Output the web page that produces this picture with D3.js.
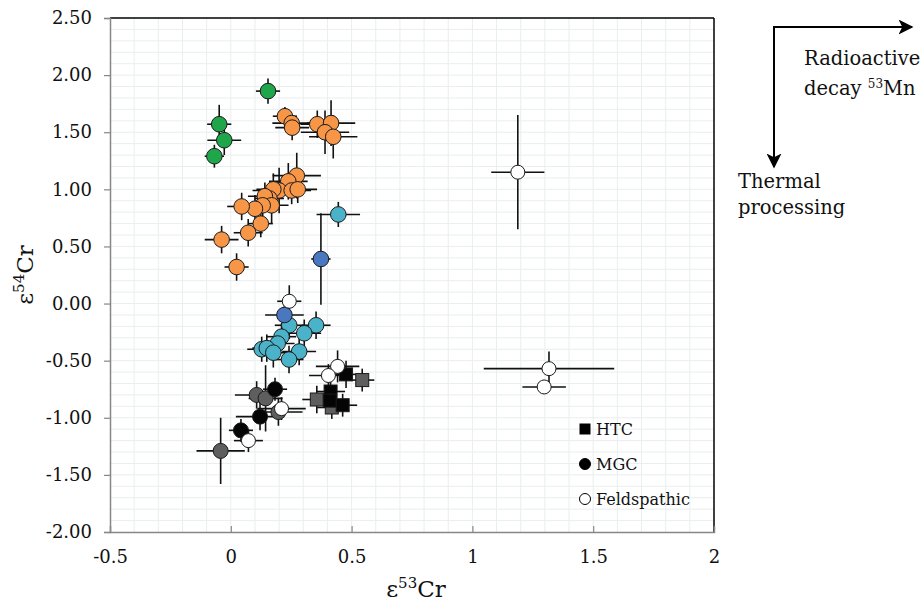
<!DOCTYPE html>
<html>
<head>
<meta charset="utf-8">
<script src="https://cdn.jsdelivr.net/npm/d3@7"></script>
<style>
  body { margin: 0; background: #fff; }
  svg { display: block; }
  svg text { font-family: "DejaVu Serif", serif; }
</style>
</head>
<body>
<div id="chart"></div>
<script>
// each point: [e53Cr, e54Cr, x error, y error]
var greenPts = [
  [0.154, 1.86, 0.05, 0.11],
  [-0.048, 1.57, 0.05, 0.17],
  [-0.027, 1.43, 0.07, 0.13],
  [-0.068, 1.29, 0.04, 0.10]
];
var orangePts = [
  [0.224, 1.64, 0.05, 0.08],
  [0.252, 1.58, 0.08, 0.06],
  [0.254, 1.54, 0.07, 0.11],
  [0.358, 1.57, 0.07, 0.12],
  [0.415, 1.58, 0.10, 0.20],
  [0.390, 1.50, 0.10, 0.19],
  [0.424, 1.46, 0.10, 0.19],
  [0.273, 1.12, 0.10, 0.20],
  [0.238, 1.07, 0.08, 0.16],
  [0.200, 0.99, 0.11, 0.20],
  [0.252, 0.99, 0.08, 0.12],
  [0.277, 1.00, 0.08, 0.12],
  [0.176, 1.00, 0.07, 0.14],
  [0.160, 0.92, 0.06, 0.12],
  [0.141, 0.94, 0.07, 0.12],
  [0.169, 0.86, 0.07, 0.16],
  [0.132, 0.86, 0.06, 0.12],
  [0.100, 0.83, 0.07, 0.12],
  [0.045, 0.85, 0.06, 0.12],
  [0.124, 0.70, 0.05, 0.12],
  [0.072, 0.62, 0.06, 0.12],
  [-0.038, 0.56, 0.07, 0.12],
  [0.024, 0.32, 0.05, 0.12]
];
var cyanPts = [
  [0.445, 0.78, 0.09, 0.11],
  [0.242, -0.19, 0.06, 0.12],
  [0.353, -0.19, 0.06, 0.12],
  [0.304, -0.26, 0.07, 0.12],
  [0.210, -0.29, 0.06, 0.12],
  [0.194, -0.35, 0.07, 0.12],
  [0.128, -0.40, 0.06, 0.11],
  [0.149, -0.39, 0.06, 0.12],
  [0.176, -0.43, 0.07, 0.13],
  [0.283, -0.42, 0.07, 0.12],
  [0.241, -0.49, 0.06, 0.12]
];
var bluePts = [
  [0.373, 0.39, 0.04, 0.40],
  [0.222, -0.10, 0.08, 0.10]
];
var grayCirclePts = [
  [0.107, -0.80, 0.09, 0.12],
  [0.144, -0.83, 0.07, 0.29],
  [0.197, -0.95, 0.10, 0.12],
  [-0.042, -1.29, 0.10, 0.29]
];
var blackCirclePts = [
  [0.183, -0.75, 0.05, 0.10],
  [0.121, -0.99, 0.10, 0.12],
  [0.042, -1.11, 0.05, 0.10]
];
var graySquarePts = [
  [0.544, -0.67, 0.05, 0.10],
  [0.356, -0.84, 0.06, 0.12],
  [0.418, -0.91, 0.06, 0.10]
];
var blackSquarePts = [
  [0.477, -0.62, 0.06, 0.12],
  [0.413, -0.77, 0.06, 0.10],
  [0.410, -0.85, 0.06, 0.10],
  [0.463, -0.89, 0.06, 0.10]
];
var whitePts = [
  [0.242, 0.02, 0.05, 0.14],
  [0.442, -0.55, 0.09, 0.14],
  [0.404, -0.63, 0.08, 0.10],
  [0.210, -0.92, 0.10, 0.10],
  [0.073, -1.20, 0.06, 0.10],
  [1.188, 1.15, 0.11, 0.50],
  [1.317, -0.57, 0.27, 0.15],
  [1.297, -0.73, 0.09, 0.06]
];

var xTicks = [-0.5, 0, 0.5, 1, 1.5, 2];
var yTicks = [2.5, 2, 1.5, 1, 0.5, 0, -0.5, -1, -1.5, -2];
var legendItems = ["HTC", "MGC", "Feldspathic"];

var svgWidth = 920;
var svgHeight = 602;

var svg = d3.select("#chart")
  .append("svg")
  .attr("width", svgWidth)
  .attr("height", svgHeight);

var xScale = d3.scaleLinear().domain([-0.5, 2]).range([110, 714]);
var yScale = d3.scaleLinear().domain([-2, 2.5]).range([532, 18]);

// faint grid every 0.1
var gridX = d3.range(-0.4, 2.0, 0.1);
var gridY = d3.range(-1.9, 2.5, 0.1);
svg.append("g").selectAll("line")
  .data(gridX)
  .enter().append("line")
  .attr("x1", d => xScale(d)).attr("x2", d => xScale(d))
  .attr("y1", yScale(2.5)).attr("y2", yScale(-2))
  .attr("stroke", "#e9eeee").attr("stroke-width", 1);
svg.append("g").selectAll("line")
  .data(gridY)
  .enter().append("line")
  .attr("y1", d => yScale(d)).attr("y2", d => yScale(d))
  .attr("x1", xScale(-0.5)).attr("x2", xScale(2))
  .attr("stroke", "#e9eeee").attr("stroke-width", 1);

// frame: black top/right, grey axes
svg.append("line")
  .attr("x1", xScale(-0.5)).attr("x2", xScale(2))
  .attr("y1", yScale(2.5)).attr("y2", yScale(2.5))
  .attr("stroke", "#000").attr("stroke-width", 1.5);
svg.append("line")
  .attr("x1", xScale(2)).attr("x2", xScale(2))
  .attr("y1", yScale(2.5)).attr("y2", yScale(-2))
  .attr("stroke", "#000").attr("stroke-width", 1.5);

// plain hyphen for negatives, like the original
var fmt2 = d3.format(".2f");
var leftAxis = d3.axisLeft(yScale)
  .tickValues(yTicks)
  .tickSize(6)
  .tickPadding(12)
  .tickFormat(d => fmt2(d).replace("−", "-"));
var gy = svg.append("g")
  .attr("transform", `translate(${xScale(-0.5)},0)`)
  .call(leftAxis);

var bottomAxis = d3.axisBottom(xScale)
  .tickValues(xTicks)
  .tickSize(-6)
  .tickPadding(18)
  .tickFormat(d => String(d));
var gx = svg.append("g")
  .attr("transform", `translate(0,${yScale(-2)})`)
  .call(bottomAxis);

[gx, gy].forEach(function(g) {
  g.attr("font-family", null);
  g.select(".domain").attr("stroke", "#878787").attr("stroke-width", 1.5);
  g.selectAll(".tick line").attr("stroke", "#878787").attr("stroke-width", 1.2);
  g.selectAll(".tick text")
    .attr("fill", "#111")
    .style("font-size", "18px");
});
gx.selectAll(".tick line").filter(d => d === -0.5 || d === 2).remove();

// axis titles
var xTitle = svg.append("text")
  .attr("x", 416).attr("y", 597)
  .attr("text-anchor", "middle")
  .style("font-size", "23px").attr("fill", "#111");
xTitle.append("tspan").text("ε");
xTitle.append("tspan").text("53").attr("dy", -9).style("font-size", "15px");
xTitle.append("tspan").text("Cr").attr("dy", 9);

var yTitle = svg.append("text")
  .attr("transform", "translate(33,275) rotate(-90)")
  .attr("text-anchor", "middle")
  .style("font-size", "23px").attr("fill", "#111");
yTitle.append("tspan").text("ε");
yTitle.append("tspan").text("54").attr("dy", -9).style("font-size", "15px");
yTitle.append("tspan").text("Cr").attr("dy", 9);

// error bars
var allSeries = [
  { pts: orangePts, fill: "#f79646", shape: "circle", r: 7.8 },
  { pts: greenPts, fill: "#1fa64a", shape: "circle", r: 7.8 },
  { pts: cyanPts, fill: "#4bb3c9", shape: "circle", r: 7.8 },
  { pts: bluePts, fill: "#4a78c0", shape: "circle", r: 7.8 },
  { pts: grayCirclePts, fill: "#5e5e5e", shape: "circle", r: 7.5 },
  { pts: blackCirclePts, fill: "#050505", shape: "circle", r: 7.5 },
  { pts: graySquarePts, fill: "#5e5e5e", shape: "square", r: 6.5 },
  { pts: blackSquarePts, fill: "#050505", shape: "square", r: 6.5 },
  { pts: whitePts, fill: "#ffffff", shape: "circle", r: 7 }
];

var barGroup = svg.append("g");
var markGroup = svg.append("g");

allSeries.forEach(function(s) {
  barGroup.append("g").selectAll("line.h")
    .data(s.pts).enter().append("line")
    .attr("x1", d => xScale(d[0] - d[2])).attr("x2", d => xScale(d[0] + d[2]))
    .attr("y1", d => yScale(d[1])).attr("y2", d => yScale(d[1]))
    .attr("stroke", "#111").attr("stroke-width", 1.6);
  barGroup.append("g").selectAll("line.v")
    .data(s.pts).enter().append("line")
    .attr("x1", d => xScale(d[0])).attr("x2", d => xScale(d[0]))
    .attr("y1", d => yScale(d[1] - d[3])).attr("y2", d => yScale(d[1] + d[3]))
    .attr("stroke", "#111").attr("stroke-width", 1.6);
});

allSeries.forEach(function(s) {
  var g = markGroup.append("g");
  if (s.shape === "circle") {
    g.selectAll("circle")
      .data(s.pts).enter().append("circle")
      .attr("cx", d => xScale(d[0]))
      .attr("cy", d => yScale(d[1]))
      .attr("r", s.r)
      .attr("fill", s.fill)
      .attr("stroke", "#1a1a1a").attr("stroke-width", 1);
  } else {
    g.selectAll("rect")
      .data(s.pts).enter().append("rect")
      .attr("x", d => xScale(d[0]) - s.r)
      .attr("y", d => yScale(d[1]) - s.r)
      .attr("width", s.r * 2).attr("height", s.r * 2)
      .attr("fill", s.fill)
      .attr("stroke", "#1a1a1a").attr("stroke-width", 1);
  }
});

// legend
var legend = svg.append("g").attr("transform", "translate(585,429)");
legendItems.forEach(function(name, i) {
  var row = legend.append("g").attr("transform", `translate(0,${i * 35})`);
  if (i === 0) {
    row.append("rect").attr("x", -5.5).attr("y", -5.5).attr("width", 11).attr("height", 11)
      .attr("fill", "#000");
  } else {
    row.append("circle").attr("r", 5.5)
      .attr("fill", i === 1 ? "#000" : "#fff")
      .attr("stroke", "#000").attr("stroke-width", 1);
  }
  row.append("text")
    .attr("x", 11).attr("y", 6)
    .style("font-size", "16px").attr("fill", "#111")
    .text(name);
});

// process arrows
var defs = svg.append("defs");
defs.append("marker")
  .attr("id", "head")
  .attr("viewBox", "0 0 10 10")
  .attr("refX", 9).attr("refY", 5)
  .attr("markerWidth", 7.5).attr("markerHeight", 7.5)
  .attr("markerUnits", "strokeWidth")
  .attr("orient", "auto")
  .append("path").attr("d", "M0,0 L10,5 L0,10 L2.5,5 Z").attr("fill", "#000");

svg.append("line")
  .attr("x1", 774).attr("y1", 27).attr("x2", 912).attr("y2", 27)
  .attr("stroke", "#000").attr("stroke-width", 2)
  .attr("marker-end", "url(#head)");
svg.append("line")
  .attr("x1", 774).attr("y1", 26).attr("x2", 774).attr("y2", 167)
  .attr("stroke", "#000").attr("stroke-width", 2)
  .attr("marker-end", "url(#head)");

svg.append("text").attr("x", 804).attr("y", 65)
  .style("font-size", "19.5px").attr("fill", "#111").text("Radioactive");
var decay = svg.append("text").attr("x", 804).attr("y", 95)
  .style("font-size", "19.5px").attr("fill", "#111");
decay.append("tspan").text("decay ");
decay.append("tspan").text("53").attr("dy", -7).style("font-size", "12px");
decay.append("tspan").text("Mn").attr("dy", 7);

svg.append("text").attr("x", 738).attr("y", 188)
  .style("font-size", "19.5px").attr("fill", "#111").text("Thermal");
svg.append("text").attr("x", 738).attr("y", 214)
  .style("font-size", "19.5px").attr("fill", "#111").text("processing");
</script>
</body>
</html>
